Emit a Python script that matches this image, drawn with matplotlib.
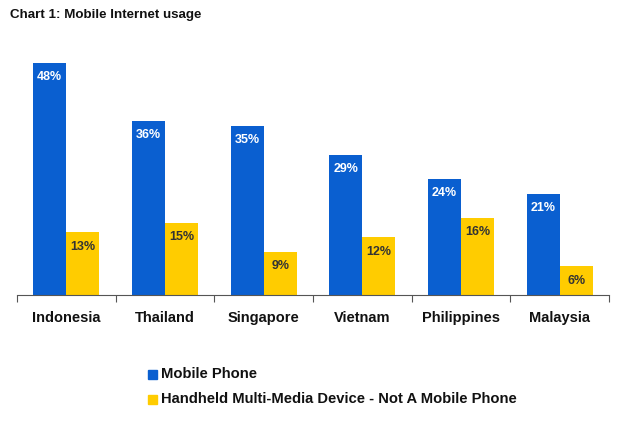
import numpy as np
import matplotlib
matplotlib.use("Agg")
import matplotlib.pyplot as plt
from matplotlib.patches import Rectangle
from matplotlib import font_manager

countries = ["Indonesia", "Thailand", "Singapore", "Vietnam", "Philippines", "Malaysia"]
mobile = [48, 36, 35, 29, 24, 21]
handheld = [13, 15, 9, 12, 16, 6]
series_names = ["Mobile Phone", "Handheld Multi-Media Device - Not A Mobile Phone"]

blue = "#0a5fd0"
yellow = "#ffcc00"

plt.rcParams["font.family"] = ["Liberation Sans", "DejaVu Sans"]
names = set(f.name for f in font_manager.fontManager.ttflist)
narrow = "Liberation Sans Narrow" if "Liberation Sans Narrow" in names else "Liberation Sans"

fig = plt.figure(figsize=(6.3, 4.28), dpi=100)
ax = fig.add_axes([17/630, 1 - 295/428, (609 - 17)/630, 0.875 - (1 - 295/428)])

x = np.arange(len(countries))
w = 0.335
ax.bar(x - w/2, mobile, w, color=blue)
ax.bar(x + w/2, handheld, w, color=yellow)

for i in range(len(countries)):
    ax.text(x[i] - w/2, mobile[i] - 1.7, "%d%%" % mobile[i], ha="center", va="top",
            color="white", fontsize=9, fontweight="bold", family=narrow)
    ax.text(x[i] + w/2, handheld[i] - 1.8, "%d%%" % handheld[i], ha="center", va="top",
            color="#333333", fontsize=9, fontweight="bold", family=narrow)

ax.set_xlim(-0.5, len(countries) - 0.5)
ax.set_ylim(0, 50)
for s in ["top", "right", "left"]:
    ax.spines[s].set_visible(False)
ax.spines["bottom"].set_color("#555555")
ax.set_yticks([])
ax.set_xticks(np.arange(len(countries) + 1) - 0.5)
ax.set_xticklabels([])
ax.tick_params(axis="x", length=5, color="#555555", direction="out")
for i, c in enumerate(countries):
    ax.text(x[i], -4.8, c, ha="center", va="center", fontsize=10.5, fontweight="bold",
            color="#111111")

fig.text(10/630, 1 - 15/428, "Chart 1: Mobile Internet usage", fontsize=9.6,
         fontweight="bold", va="center", ha="left", color="#111111")

for j, (name, col) in enumerate(zip(series_names, [blue, yellow])):
    yy = 1 - (374 + j*25)/428
    fig.patches.append(Rectangle((148/630, yy - 4.5/428), 9/630, 9/428,
                                 transform=fig.transFigure, color=col))
    fig.text(161/630, yy, name, fontsize=10.6, fontweight="bold", va="center",
             ha="left", color="#111111")

fig.savefig("out.png", dpi=100)
